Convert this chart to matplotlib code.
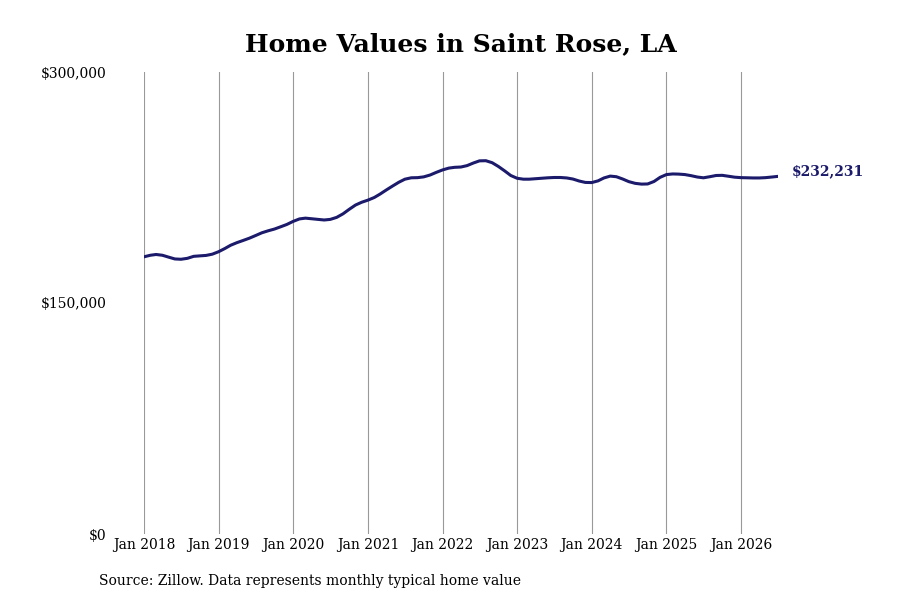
import matplotlib
matplotlib.use('Agg')
import matplotlib.pyplot as plt
import pandas as pd

# monthly typical home value, Jan 2018 - Jul 2026
values = [
  180000, 181000, 181500, 181000, 179800, 178600, 178400, 179000, 180300, 180600, 180900, 181700,
  183300, 185400, 187500, 189200, 190600, 192100, 193800, 195600, 196900, 198000, 199500, 201000,
  203000, 204600, 205100, 204700, 204300, 203900, 204300, 205600, 207900, 210800, 213600, 215400,
  216800, 218500, 220700, 223400, 225900, 228400, 230400, 231300, 231400, 231900, 233100, 234800,
  236400, 237600, 238100, 238300, 239200, 240900, 242300, 242400, 241100, 238700, 235800, 232800,
  231000, 230400, 230400, 230700, 231000, 231300, 231500, 231500, 231200, 230500, 229200, 228300,
  228200, 229300, 231200, 232400, 232000, 230500, 228800, 227700, 227200, 227300, 228900, 231600,
  233400, 233800, 233700, 233400, 232700, 231800, 231300, 232000, 232800, 232900, 232300, 231700,
  231400, 231300, 231200, 231200, 231400, 231800, 232231,
]
dates = pd.date_range('2018-01-01', periods=len(values), freq='MS')
tick_years = list(range(2018, 2027))
tick_labels = ['Jan %d' % y for y in tick_years]
y_ticks = [0, 150000, 300000]
y_labels = ['$0', '$150,000', '$300,000']

line_color = '#1b1a6b'
plt.rcParams['font.family'] = 'DejaVu Serif'

fig = plt.figure(figsize=(9, 6), dpi=100)
ax = fig.add_axes([144/900, 1 - 534/600, (778 - 144)/900, (534 - 72)/600])

ax.plot(dates, values, color=line_color, linewidth=2.2, solid_capstyle='round')

ax.set_xlim(dates[0], dates[-1])
ax.set_ylim(0, 300000)
ax.set_xticks([pd.Timestamp('%d-01-01' % y) for y in tick_years])
ax.set_xticklabels(tick_labels, fontsize=10)
ax.set_yticks(y_ticks)
ax.set_yticklabels(y_labels, fontsize=10)
ax.tick_params(axis='x', length=0, pad=3)
ax.tick_params(axis='y', length=0, pad=27)
ax.grid(axis='x', color='#999999', linewidth=0.8)
ax.set_axisbelow(True)
for s in ax.spines.values():
  s.set_visible(False)

ax.annotate('$232,231', xy=(dates[-1], values[-1]), xytext=(10, 3.5),
            textcoords='offset points', va='center', ha='left',
            fontsize=10, fontweight='bold', color=line_color)

fig.text(461/900, 1 - 44/600, 'Home Values in Saint Rose, LA', ha='center', va='center',
         fontsize=18, fontweight='bold')
fig.text(99/900, 1 - 581/600, 'Source: Zillow. Data represents monthly typical home value',
         ha='left', va='center', fontsize=10)

fig.savefig('out.png', dpi=100, facecolor='white')
